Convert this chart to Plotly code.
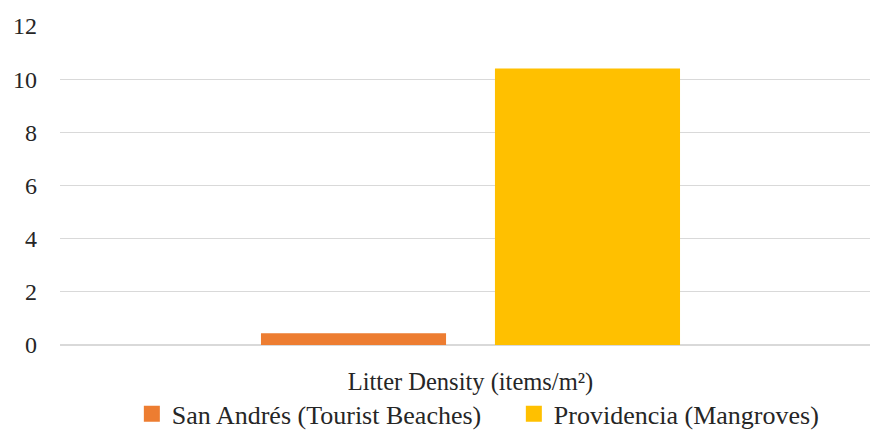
import plotly.graph_objects as go

categories = ["Litter Density (items/m²)"]
san_andres = [0.44]
providencia = [10.4]
series_names = ["San Andrés (Tourist Beaches)", "Providencia (Mangroves)"]
series_colors = ["#ED7D31", "#FFC000"]
y_ticks = [0, 2, 4, 6, 8, 10, 12]

FONT = "Liberation Serif"
TEXT = "#262626"

fig = go.Figure()
for name, vals, col in zip(series_names, [san_andres, providencia], series_colors):
    fig.add_trace(go.Bar(x=categories, y=vals, name=name, showlegend=False,
                         marker=dict(color=col, line=dict(width=0))))
# legend keys drawn as square markers
for name, col in zip(series_names, series_colors):
    fig.add_trace(go.Scatter(x=[None], y=[None], mode="markers", name=name,
                             marker=dict(symbol="square", size=16, color=col)))

fig.update_layout(
    width=870, height=432,
    margin=dict(l=60, r=0, t=26, b=86.5, autoexpand=False),
    paper_bgcolor="white", plot_bgcolor="white",
    barmode="group", bargap=0.43, bargroupgap=0.209,
    font=dict(family=FONT, size=24, color=TEXT),
    showlegend=True,
    legend=dict(orientation="h", x=0.0887, xanchor="left", y=-0.216, yanchor="middle",
                font=dict(family=FONT, size=26, color=TEXT),
                entrywidth=337, itemwidth=30, bgcolor="rgba(0,0,0,0)"),
    xaxis=dict(type="category", range=[-0.5, 0.4866], showgrid=False, showline=False,
               ticks="", tickfont=dict(size=24.5), ticklabelstandoff=19, automargin=False),
    yaxis=dict(range=[0, 12], tickvals=y_ticks, showgrid=True, gridcolor="#D9D9D9",
               gridwidth=1, zeroline=True, zerolinecolor="#D9D9D9", zerolinewidth=1.5,
               showline=False, ticks="", ticklabelstandoff=22, tickfont=dict(size=24),
               automargin=False),
)

fig.write_html("out.html")
